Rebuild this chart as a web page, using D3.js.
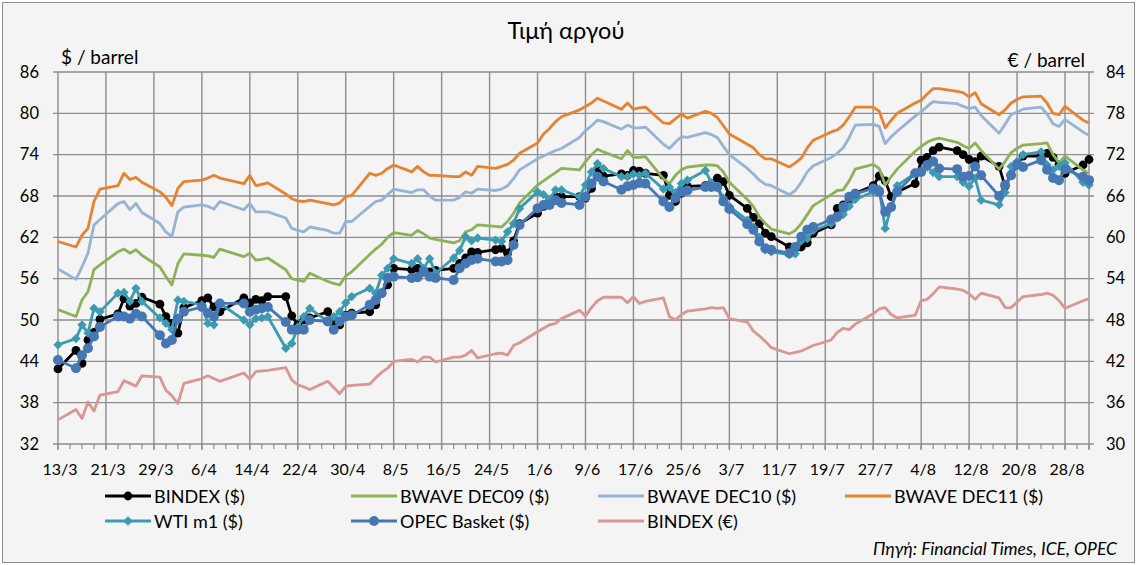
<!DOCTYPE html>
<html><head><meta charset="utf-8">
<script src="https://cdn.jsdelivr.net/npm/d3@7"></script>
<style>
html,body{margin:0;padding:0;background:#fff;}
svg{display:block;font-family:Lato,"Open Sans",sans-serif;}
</style></head>
<body><svg id="c" width="1137" height="565"></svg>
<script>
const dates = ["13/3",
"16/3","17/3","18/3","19/3","20/3","23/3","24/3","25/3","26/3","27/3",
"30/3","31/3","1/4","2/4","3/4","6/4","7/4","8/4","9/4","10/4",
"13/4","14/4","15/4","16/4","17/4","20/4","21/4","22/4","23/4","24/4",
"27/4","28/4","29/4","30/4","1/5","4/5","5/5","6/5","7/5","8/5",
"11/5","12/5","13/5","14/5","15/5","18/5","19/5","20/5","21/5","22/5",
"25/5","26/5","27/5","28/5","29/5","1/6","2/6","3/6","4/6","5/6",
"8/6","9/6","10/6","11/6","12/6","15/6","16/6","17/6","18/6","19/6",
"22/6","23/6","24/6","25/6","26/6","29/6","30/6","1/7","2/7","3/7",
"6/7","7/7","8/7","9/7","10/7","13/7","14/7","15/7","16/7","17/7",
"20/7","21/7","22/7","23/7","24/7","27/7","28/7","29/7","30/7","31/7",
"3/8","4/8","5/8","6/8","7/8","10/8","11/8","12/8","13/8","14/8",
"17/8","18/8","19/8","20/8","21/8","24/8","25/8","26/8","27/8","28/8",
"31/8","1/9"];

const bindexUsd = [42.9,
45.6,43.7,47.1,48.2,50.1, 50.9,53.1,52.0,52.4,53.3,
52.3,50.5,49.5,48.1,51.8, 52.8,53.2,51.9,51.2,null,
53.2,52.5,53.0,52.8,53.4, 53.4,50.6,49.3,50.0,50.3,
51.2,49.6,49.3,50.7,51.0, 51.2,52.2,53.9,55.1,57.5,
57.3,57.5,57.0,57.0,57.2, 57.5,58.2,59.0,59.9,59.8,
60.2,60.4,59.7,61.5,64.0, 65.5,66.5,67.4,67.9,67.9,
67.9,67.7,69.1,71.7,70.9, 71.2,71.0,71.7,71.6,71.3,
71.0,68.1,67.2,68.4,69.4, 69.5,69.8,70.6,70.1,68.1,
66.2,64.9,64.0,62.6,62.1, 60.6,60.4,60.6,61.2,62.6,
63.8,66.2,66.7,67.5,68.4, 69.5,70.9,70.2,67.9,68.6,
69.8,73.2,73.6,74.6,75.1, 74.6,74.0,73.3,73.0,73.8,
72.3,69.4,71.0,72.5,73.8, 73.8,74.2,73.6,72.6,71.3,
72.5,73.3];

const bwaveDec09 = [51.5,
50.5,52.9,54.1,57.3,58.0, 59.9,60.3,59.7,60.2,59.4,
57.7,56.3,55.1,58.2,59.6, 59.4,59.3,59.1,60.3,null,
59.2,59.7,58.7,58.8,59.0, 57.3,56.0,55.8,55.6,56.8,
55.6,55.3,55.1,56.4,57.0, 59.5,60.3,61.0,62.0,62.7,
62.3,63.0,62.5,61.9,61.7, 61.2,61.5,62.8,63.1,63.8,
63.6,63.5,64.3,65.5,67.0, 69.6,70.2,70.8,71.4,72.0,
71.8,73.0,74.0,74.8,74.4, 73.4,74.6,73.6,73.6,73.7,
70.5,69.8,71.0,71.8,72.2, 72.5,72.5,72.4,71.5,70.0,
67.5,66.5,65.0,64.0,63.2, 62.5,63.0,64.0,65.3,66.6,
68.2,68.8,68.9,70.2,71.9, 72.6,72.0,69.6,70.8,71.9,
74.5,75.2,75.8,76.2,76.4, 75.8,75.3,74.9,75.7,74.6,
71.9,73.0,74.3,74.9,75.4, 75.6,75.7,74.0,72.8,73.8,
71.8,71.3];

const bwaveDec10 = [57.4,
55.9,57.7,59.7,63.8,64.6, 66.9,67.2,66.0,66.9,65.6,
64.0,62.8,62.1,65.7,66.4, 66.7,66.5,66.1,67.2,null,
66.0,66.9,65.7,65.7,65.7, 64.8,63.3,63.0,62.8,63.5,
63.0,62.6,62.6,64.3,64.3, 66.5,67.2,67.4,68.2,69.0,
68.5,68.9,68.9,68.0,67.4, 67.4,67.8,68.6,68.4,69.0,
68.8,69.0,69.5,70.5,71.8, 73.4,73.8,74.2,74.6,74.9,
76.5,77.5,78.2,79.0,78.8, 77.7,78.3,77.9,77.9,78.0,
75.5,74.9,75.8,76.6,76.5, 77.2,76.9,76.5,75.2,74.0,
72.0,71.2,70.3,69.7,69.5, 68.2,68.8,70.0,71.5,72.4,
73.6,74.2,75.0,76.5,78.3, 78.4,78.1,75.6,76.6,77.4,
79.6,80.2,81.0,81.7,81.6, 81.4,81.0,80.7,80.9,79.7,
77.1,78.4,79.8,80.2,80.6, 80.9,79.9,78.5,78.1,79.1,
77.3,76.8];

const bwaveDec11 = [61.4,
60.6,62.3,63.3,67.2,69.0, 69.5,71.3,70.4,70.7,70.0,
68.6,67.8,66.6,69.1,70.1, 70.3,70.6,71.0,70.6,null,
69.8,71.0,69.5,69.7,69.9, 68.3,67.6,67.3,67.2,67.4,
66.9,66.7,67.0,67.9,68.1, 71.3,71.0,71.3,72.0,72.5,
71.5,72.3,71.5,71.0,71.0, 70.8,70.8,71.5,71.0,72.3,
72.0,72.3,72.6,73.2,74.2, 75.7,77.0,77.8,78.8,79.5,
80.5,81.0,81.5,82.2,81.8, 80.6,81.5,80.6,80.8,80.9,
78.6,78.5,79.2,79.9,79.3, 80.3,80.0,79.4,78.2,77.0,
75.5,75.0,74.0,73.4,73.4, 72.2,72.8,73.5,75.0,76.1,
77.3,77.6,78.3,79.5,80.9, 80.9,80.3,77.9,79.0,80.0,
81.5,81.9,82.8,83.6,83.6, 83.2,83.0,82.4,83.0,81.4,
79.8,80.5,81.5,82.0,82.4, 82.5,81.5,80.0,79.8,81.0,
79.0,78.6];

const wtiM1 = [46.4,
47.3,49.3,48.1,51.7,51.2, 53.9,54.0,52.7,54.6,52.7,
50.3,49.5,48.6,52.9,52.7, 52.2,49.5,49.3,52.4,null,
50.0,49.3,50.2,50.3,50.5, 45.9,46.6,49.0,50.5,51.7,
49.8,50.5,51.2,52.5,53.4, 54.6,53.9,56.5,57.5,58.9,
58.2,58.9,57.5,58.9,56.8, 59.0,60.1,62.1,61.5,61.9,
61.6,61.4,62.8,64.0,66.2, 68.6,68.2,67.5,68.9,68.9,
67.9,69.6,71.5,72.7,72.0, 70.8,70.8,71.2,71.0,71.3,
69.0,69.3,68.5,69.8,70.3, 71.7,69.9,69.4,67.7,66.5,
64.5,63.5,62.0,60.2,59.9, 59.5,59.6,61.5,61.8,63.0,
64.0,64.8,65.3,66.5,67.5, 68.6,69.0,63.3,66.4,69.5,
71.3,71.6,72.2,71.4,70.8, 70.8,70.0,69.4,70.6,67.4,
66.7,68.5,72.3,73.0,74.0, 74.4,72.5,71.8,72.3,72.8,
70.0,69.6];

const opecBasket = [44.2,
43.0,44.9,45.9,47.6,49.0, 50.5,50.5,50.2,50.9,50.5,
47.8,46.6,47.1,50.2,51.2, 51.9,51.0,50.5,52.4,null,
52.4,51.2,51.5,51.7,51.9, 49.7,48.6,48.6,48.6,50.0,
49.8,48.6,49.8,50.5,50.7, 52.2,52.9,53.9,56.1,56.3,
56.1,56.2,57.0,56.3,56.1, 55.8,57.5,58.2,58.7,58.9,
58.5,58.5,58.7,60.9,63.8, 66.2,66.7,66.7,67.4,67.0,
66.7,67.9,69.8,70.8,70.1, 68.9,69.4,69.6,69.9,69.8,
67.2,66.4,67.7,68.6,68.8, 69.3,69.3,69.3,67.2,66.1,
63.9,63.1,61.4,60.4,60.2, 59.7,60.6,62.1,63.1,63.5,
64.6,65.0,66.4,67.9,68.3, 69.1,68.6,65.7,66.4,68.6,
71.3,71.5,72.5,73.0,72.0, 71.9,70.8,70.9,72.3,71.0,
68.0,69.6,71.0,72.6,72.2, 73.2,71.8,70.6,70.3,71.9,
70.8,70.3];

const bindexEur = [33.5,
35.0,33.7,36.1,34.8,37.1, 37.6,39.2,38.8,38.4,39.9,
39.7,37.8,37.0,35.9,38.8, 39.5,39.9,39.5,39.1,null,
40.3,39.4,40.5,40.6,40.7, 41.1,39.3,38.6,38.3,37.9,
39.1,38.2,37.3,38.4,38.5, 38.7,39.6,40.4,41.0,42.0,
42.3,41.9,42.6,42.6,41.9, 42.6,42.6,42.9,43.6,42.5,
43.1,43.2,42.9,44.3,44.7, 46.3,46.8,47.3,47.5,48.2,
49.4,48.6,49.8,50.8,51.3, 51.3,50.5,51.4,50.4,50.7,
51.2,48.5,48.0,48.8,49.3, 49.6,49.8,49.7,49.8,48.2,
47.7,46.4,45.7,44.9,44.0, 43.1,43.3,43.5,43.9,44.3,
45.1,46.2,46.8,46.6,47.4, 48.9,49.6,49.8,48.8,48.3,
48.7,50.8,51.0,51.8,52.8, 52.5,52.3,51.8,51.0,51.9,
51.2,49.8,49.8,50.6,51.4, 51.7,51.9,51.6,50.8,49.7,
50.8,51.1];

const leftTicks = [32,38,44,50,56,62,68,74,80,86];
const rightTicks = [30,36,42,48,54,60,66,72,78,84];
const xTickLabels = ["13/3","21/3","29/3","6/4","14/4","22/4","30/4","8/5","16/5","24/5","1/6","9/6","17/6","25/6","3/7","11/7","19/7","27/7","4/8","12/8","20/8","28/8"];

const seriesNames = ["BINDEX ($)","BWAVE DEC09 ($)","BWAVE DEC10 ($)","BWAVE DEC11 ($)","WTI m1 ($)","OPEC Basket ($)","BINDEX (€)"];
const seriesColors = ["#000000","#8DB255","#95B3D7","#E8822F","#3A9BB3","#4677B5","#D99694"];

const parse = s => { const [d,m] = s.split("/").map(Number); return new Date(2009, m-1, d); };

const svg = d3.select("#c");
const W = 1137, H = 565;
svg.append("rect").attr("x",0).attr("y",0).attr("width",W).attr("height",H).attr("fill","#ffffff");
svg.append("rect").attr("x",2.5).attr("y",2.5).attr("width",W-5).attr("height",H-5)
  .attr("fill","#f4f4f4").attr("stroke","#8c8c8c").attr("stroke-width",1);

const x = d3.scaleTime().domain([parse("13/3"), parse("1/9")]).range([58,1089]);
const yL = d3.scaleLinear().domain([32,86]).range([444,72]);
const yR = d3.scaleLinear().domain([30,84]).range([444,72]);

const gridColor = "#8e8e8e";
leftTicks.forEach(v => {
  svg.append("line").attr("x1",53).attr("x2",1094).attr("y1",yL(v)).attr("y2",yL(v))
    .attr("stroke",gridColor).attr("stroke-width",1.4);
});
const majorDates = xTickLabels.map(parse);
majorDates.forEach(d => {
  svg.append("line").attr("x1",x(d)).attr("x2",x(d)).attr("y1",72).attr("y2",450)
    .attr("stroke",gridColor).attr("stroke-width",1.4);
});
svg.append("line").attr("x1",x(parse("1/9"))).attr("x2",x(parse("1/9"))).attr("y1",72).attr("y2",450)
  .attr("stroke",gridColor).attr("stroke-width",1.4);
d3.timeDay.range(parse("13/3"), parse("2/9"), 2).forEach(d => {
  svg.append("line").attr("x1",x(d)).attr("x2",x(d)).attr("y1",444).attr("y2",449)
    .attr("stroke",gridColor).attr("stroke-width",1.2);
});

const axisG = svg.append("g").attr("fill","#000");
leftTicks.forEach(v => {
  axisG.append("text").attr("x",39).attr("y",yL(v)).attr("dy","0.35em")
    .attr("font-size",16.5).attr("text-anchor","end").text(v);
});
rightTicks.forEach(v => {
  axisG.append("text").attr("x",1106).attr("y",yR(v)).attr("dy","0.35em")
    .attr("font-size",16.5).attr("text-anchor","start").text(v);
});
xTickLabels.forEach(s => {
  axisG.append("text").attr("x",x(parse(s))+2).attr("y",469).attr("dy","0.35em")
    .attr("font-size",16).attr("text-anchor","middle").text(s);
});

svg.append("text").attr("x",566).attr("y",31).attr("dy","0.35em").attr("text-anchor","middle")
  .attr("font-size",23.5).text("Τιμή αργού");
svg.append("text").attr("x",61).attr("y",57).attr("dy","0.35em").attr("font-size",19).text("$ / barrel");
svg.append("text").attr("x",1085).attr("y",60).attr("dy","0.35em").attr("text-anchor","end").attr("font-size",19).text("€ / barrel");
svg.append("text").attr("x",1117).attr("y",549).attr("dy","0.35em").attr("text-anchor","end")
  .attr("font-size",17.5).attr("font-style","italic").text("Πηγή: Financial Times, ICE, OPEC");

const allSeries = [
  {vals: bindexUsd, y: yL, marker: "circle", r: 4.4},
  {vals: bwaveDec09, y: yL},
  {vals: bwaveDec10, y: yL},
  {vals: bwaveDec11, y: yL},
  {vals: wtiM1, y: yL, marker: "diamond", r: 4.8},
  {vals: opecBasket, y: yL, marker: "circle", r: 5},
  {vals: bindexEur, y: yR}
];
allSeries.forEach((s, i) => {
  const pts = dates.map((d, k) => ({d: parse(d), v: s.vals[k]})).filter(p => p.v != null);
  const line = d3.line().x(p => x(p.d)).y(p => s.y(p.v));
  const g = svg.append("g");
  g.append("path").attr("d", line(pts)).attr("fill","none").attr("stroke",seriesColors[i])
    .attr("stroke-width",2.8).attr("stroke-linejoin","round");
  if (s.marker === "circle") {
    g.selectAll("circle").data(pts).join("circle").attr("cx",p=>x(p.d)).attr("cy",p=>s.y(p.v))
      .attr("r",s.r).attr("fill",seriesColors[i]);
  } else if (s.marker === "diamond") {
    const sym = d3.symbol().type(d3.symbolDiamond2).size(s.r*s.r*2.4);
    g.selectAll("path.m").data(pts).join("path").attr("class","m")
      .attr("transform",p=>`translate(${x(p.d)},${s.y(p.v)})`).attr("d",sym).attr("fill",seriesColors[i]);
  }
});

const legendPos = [[105,496],[351,496],[598,496],[845,496],[105,521],[351,521],[598,521]];
const lg = svg.append("g").attr("font-size",18);
seriesNames.forEach((n,i) => {
  const [lx,ly] = legendPos[i];
  lg.append("line").attr("x1",lx).attr("x2",lx+46).attr("y1",ly).attr("y2",ly)
    .attr("stroke",seriesColors[i]).attr("stroke-width",3);
  const s = allSeries[i];
  if (s.marker === "circle") {
    lg.append("circle").attr("cx",lx+23).attr("cy",ly).attr("r",s.r).attr("fill",seriesColors[i]);
  } else if (s.marker === "diamond") {
    lg.append("path").attr("transform",`translate(${lx+23},${ly})`)
      .attr("d",d3.symbol().type(d3.symbolDiamond2).size(s.r*s.r*2.4)).attr("fill",seriesColors[i]);
  }
  lg.append("text").attr("x",lx+49).attr("y",ly+1).attr("dy","0.35em").text(n);
});
</script></body></html>
